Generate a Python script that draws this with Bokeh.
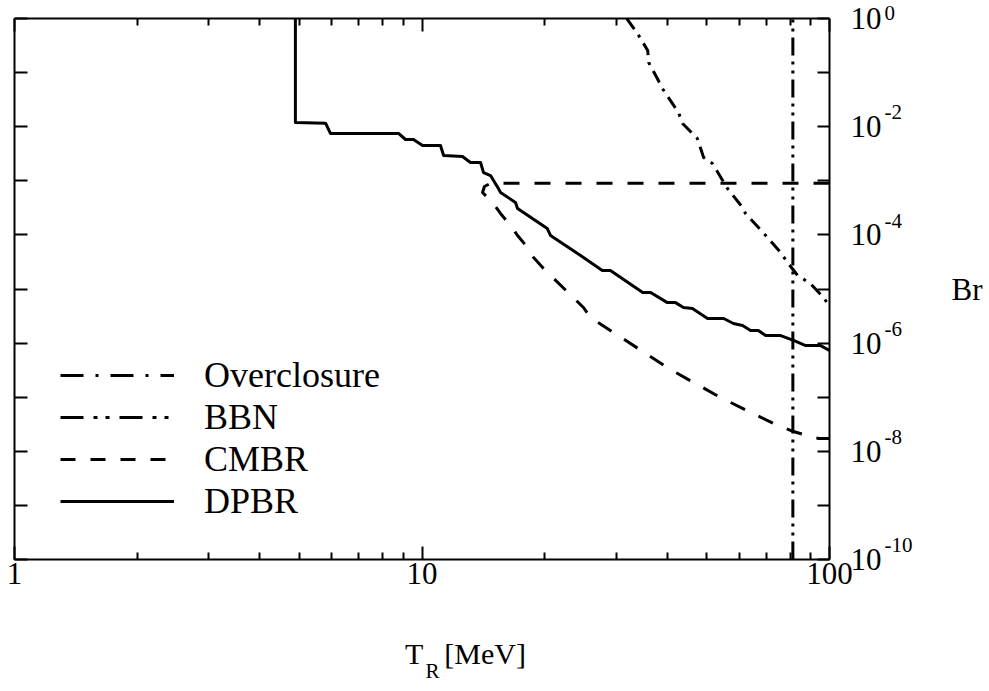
from bokeh.plotting import figure
from bokeh.models import Range1d, LogAxis, FixedTicker, Legend, LegendItem, Title
from bokeh.embed import file_html
from bokeh.resources import INLINE

# ---- data ----
dpbr_T = [4.89, 4.89, 5.80, 5.96, 8.76, 9.11, 9.53, 10.03, 11.1, 11.3, 12.57, 13.15, 13.92,
          14.16, 14.73, 15.4, 15.58, 16.96, 17.16, 20.3, 20.67, 24.5, 27.7, 29.0, 34.8, 36.4,
          40.0, 41.9, 43.8, 46.1, 50.2, 55.0, 58.1, 61.2, 64.0, 66.9, 69.7, 75.9, 81.6, 87.4,
          95.1, 100.0]
dpbr_Br = [1.0, 1.2e-2, 1.16e-2, 7.5e-3, 7.5e-3, 5.8e-3, 5.8e-3, 4.5e-3, 4.5e-3, 2.94e-3,
           2.81e-3, 2.18e-3, 2.18e-3, 1.42e-3, 1.25e-3, 7.2e-4, 6.1e-4, 3.97e-4, 3.08e-4,
           1.31e-4, 9.75e-5, 4.16e-5, 2.2e-5, 2.2e-5, 8.6e-6, 8.6e-6, 5.6e-6, 5.6e-6, 4.55e-6,
           4.36e-6, 2.85e-6, 2.85e-6, 2.3e-6, 2.11e-6, 1.71e-6, 1.71e-6, 1.38e-6, 1.38e-6,
           1.12e-6, 9.0e-7, 9.0e-7, 7.3e-7]

cmbr_T = [100.0, 14.73, 14.23, 14.08, 14.98, 15.58, 16.5, 17.16, 18.15, 18.78, 19.87, 23.5,
          24.9, 25.9, 30.3, 40.3, 54.0, 72.9, 81.6, 89.8, 94.0, 100.0]
cmbr_Br = [9.0e-4, 9.0e-4, 7.85e-4, 6.08e-4, 3.8e-4, 2.49e-4, 1.49e-4, 9.75e-5, 5.85e-5,
           3.82e-5, 2.39e-5, 6.96e-6, 4.55e-6, 2.97e-6, 1.38e-6, 3.39e-7, 9.87e-8, 3.26e-8,
           2.32e-8, 1.88e-8, 1.73e-8, 1.73e-8]

oc_T = [31.8, 33.8, 35.8, 36.0, 37.8, 38.9, 42.6, 43.6, 47.4, 49.1, 51.6, 56.2, 61.2, 62.2,
        70.5, 75.9, 78.9, 83.5, 89.8, 96.7, 100.0]
oc_Br = [1.0, 0.528, 0.256, 0.154, 0.0778, 0.0508, 0.0183, 0.01146, 6.05e-3, 2.7e-3, 2.09e-3,
         7.2e-4, 3.21e-4, 2.49e-4, 8.95e-5, 4.73e-5, 3.09e-5, 1.78e-5, 1.26e-5, 6.96e-6, 4.75e-6]

bbn_T = [81.3, 81.3]
bbn_Br = [1e-10, 1.0]

legend_labels = ["Overclosure", "BBN", "CMBR", "DPBR"]

x_major = [1, 10, 100]
x_minor = [2, 3, 4, 5, 6, 7, 8, 9, 20, 30, 40, 50, 60, 70, 80, 90]
x_labels = ["1", "10", "100"]
y_exponents = [0, -1, -2, -3, -4, -5, -6, -7, -8, -9, -10]
y_labeled = [0, -2, -4, -6, -8, -10]

EN = "\u2002"
THIN = "\u2009"
x_title_main = "T" + EN + THIN + "[MeV]"
x_title_sub = "R"
y_title = "Br"

FONT = "Liberation Serif"
NAN = float("nan")

p = figure(width=988, height=689, x_axis_type="log", y_axis_type="log",
           x_range=Range1d(1, 100), y_range=Range1d(1e-10, 1), y_axis_location="right",
           output_backend="svg", toolbar_location=None,
           min_border_left=14, min_border_top=18, min_border_right=159, min_border_bottom=130)
p.grid.visible = False
p.outline_line_color = None
p.background_fill_color = "white"
p.border_fill_color = "white"

xt = FixedTicker(ticks=x_major, minor_ticks=x_minor)
yt = FixedTicker(ticks=[10.0 ** e for e in y_exponents], minor_ticks=[])


def style(ax, major_in, minor_in):
    ax.axis_line_width = 2
    ax.axis_line_color = "black"
    ax.major_tick_in = major_in
    ax.major_tick_out = 0
    ax.minor_tick_in = minor_in
    ax.minor_tick_out = 0
    ax.major_tick_line_width = 2
    ax.minor_tick_line_width = 2
    ax.major_tick_line_color = "black"
    ax.minor_tick_line_color = "black"


# bottom axis (+ title line "T  [MeV]", shifted right with leading spaces)
bx = p.xaxis[0]
bx.ticker = xt
style(bx, 13, 7)
bx.major_label_overrides = {float(v): s for v, s in zip(x_major, x_labels)}
bx.major_label_text_font = FONT
bx.major_label_text_font_size = "31px"
bx.major_label_text_color = "black"
bx.major_label_standoff = 3
bx.axis_label = EN * 5 + THIN * 2 + x_title_main
bx.axis_label_text_font = FONT
bx.axis_label_text_font_size = "30px"
bx.axis_label_text_font_style = "normal"
bx.axis_label_text_color = "black"
bx.axis_label_standoff = 50

# right axis: mantissa "10"
ry = p.yaxis[0]
ry.ticker = yt
style(ry, 12, 0)
ry.major_label_overrides = {10.0 ** e: ("10" if e in y_labeled else "") for e in y_exponents}
ry.major_label_text_font = FONT
ry.major_label_text_font_size = "31px"
ry.major_label_text_color = "black"
ry.major_label_standoff = 21

# second right axis: raised exponents, plus the "Br" title
ey = LogAxis(ticker=yt, axis_line_color=None, major_tick_line_color=None,
             minor_tick_line_color=None, major_tick_in=0, major_tick_out=0,
             minor_tick_in=0, minor_tick_out=0, major_label_standoff=0,
             major_label_overrides={10.0 ** e: (f"{e}\n" if e in y_labeled else "")
                                    for e in y_exponents},
             major_label_text_font=FONT, major_label_text_font_size="21px",
             major_label_text_color="black",
             axis_label=y_title, axis_label_orientation="horizontal",
             axis_label_text_font=FONT, axis_label_text_font_size="31px",
             axis_label_text_font_style="normal", axis_label_text_color="black",
             axis_label_standoff=36)
p.add_layout(ey, "right")

# left axis (ticks only)
ly = LogAxis(ticker=yt, major_label_text_font_size="0px", major_label_standoff=0,
             major_label_overrides={10.0 ** e: "" for e in y_exponents})
style(ly, 13, 0)
p.add_layout(ly, "left")

# top axis (ticks only)
tx = LogAxis(ticker=xt, major_label_text_font_size="0px", major_label_standoff=0,
             major_label_overrides={float(v): "" for v in x_major})
style(tx, 13, 7)
p.add_layout(tx, "above")

LW = 3
# curves
p.line(oc_T, oc_Br, line_color="black", line_width=LW, line_dash="13 7 3 7", line_join="round")
p.line(bbn_T, bbn_Br, line_color="black", line_width=LW, line_dash="18 6 3 6 3 6")
p.line(cmbr_T, cmbr_Br, line_color="black", line_width=LW, line_dash="16 15", line_join="round")
p.line(dpbr_T, dpbr_Br, line_color="black", line_width=LW, line_join="round")

# legend samples (longer dash patterns, as in the key)
dashes = ["23 12 3 12", "23 10 4 8 4 10", "15 15", "solid"]
items = []
for lab, d in zip(legend_labels, dashes):
    r = p.line([NAN], [NAN], line_color="black", line_width=LW, line_dash=d)
    items.append(LegendItem(label=lab, renderers=[r]))

leg = Legend(items=items, location=(46, 37), orientation="vertical",
             glyph_width=114, glyph_height=40, label_height=40, label_standoff=30,
             spacing=0, padding=0, margin=0, border_line_alpha=0,
             background_fill_alpha=0, label_text_font=FONT,
             label_text_font_size="36px", label_text_color="black")
p.add_layout(leg, "center")

# subscript R of T_R
t3 = Title(text=x_title_sub, align="left", offset=411, vertical_align="top", standoff=-27,
           text_font=FONT, text_font_size="21px", text_font_style="normal", text_color="black")
p.add_layout(t3, "below")

open("out.html", "w").write(file_html(p, INLINE))
